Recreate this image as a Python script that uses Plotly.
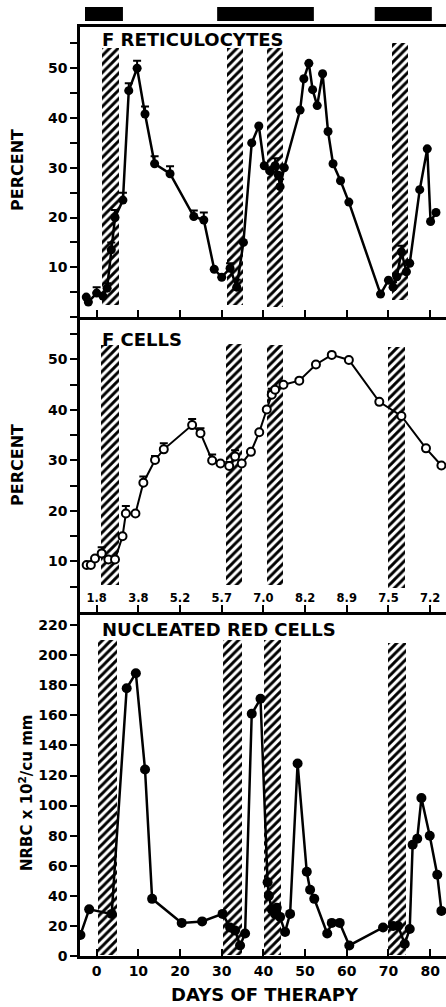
import plotly.graph_objects as go

# ---------------- data ----------------
ret_days = [-2.5, -2.0, 0.0, 1.5, 2.5, 3.5, 4.4, 6.3, 7.7, 9.7, 11.6, 13.9, 17.6, 23.3, 25.7,
            28.2, 30.0, 32.0, 33.6, 35.2, 37.2, 38.9, 40.2, 41.5, 42.8, 43.6, 44.0, 45.0,
            48.8, 49.7, 50.9, 51.8, 52.9, 54.2, 55.5, 56.7, 58.5, 60.5, 68.1, 70.0, 71.1,
            72.0, 73.1, 74.3, 75.1, 77.5, 79.3, 80.1, 81.4]
ret_vals = [4.0, 3.0, 4.8, 4.2, 5.8, 13.5, 20.0, 23.5, 45.5, 50.0, 40.8, 30.8, 28.8, 20.2, 19.5,
            9.6, 8.0, 9.8, 6.0, 15.0, 35.0, 38.4, 30.4, 29.4, 30.4, 28.5, 26.2, 30.0,
            41.6, 47.9, 51.0, 45.7, 42.5, 48.9, 37.3, 30.8, 27.4, 23.1, 4.6, 7.4, 6.0,
            8.1, 13.1, 9.1, 10.8, 25.6, 33.8, 19.2, 21.0]
ret_err = [0, 0, 1.2, 0, 1.0, 1.5, 1.5, 1.5, 1.5, 1.5, 1.5, 1.5, 1.5, 1.2, 1.5,
           0, 0, 1.0, 1.5, 0, 0, 0, 0, 0, 1.5, 0, 1.5, 0,
           0, 0, 0, 0, 0, 0, 0, 0, 0, 0, 0, 0, 1.0,
           0, 1.2, 0, 0, 0, 0, 0, 0]

fc_days = [-2.4, -1.4, -0.4, 1.2, 2.8, 4.4, 6.2, 7.0, 9.3, 11.2, 14.0, 16.1, 22.9, 24.9, 27.7,
           29.7, 31.8, 33.2, 34.8, 37.0, 39.0, 40.8, 42.0, 42.8, 44.8, 48.6, 52.6, 56.4,
           60.5, 67.8, 73.1, 79.0, 82.7]
fc_vals = [9.3, 9.3, 10.6, 11.6, 10.4, 10.4, 15.0, 19.5, 19.5, 25.6, 30.1, 32.2, 37.0, 35.4, 30.0,
           29.4, 28.9, 30.8, 29.4, 31.7, 35.6, 40.1, 43.0, 44.0, 45.0, 45.8, 49.0, 50.9,
           49.9, 41.6, 38.8, 32.4, 29.0]
fc_err = [0, 0, 0, 1.2, 0, 0, 0, 1.5, 0, 1.2, 0.8, 1.2, 1.2, 1.0, 1.2,
          0, 0.8, 1.2, 0, 0, 0, 0, 1.2, 0, 0, 0, 0, 0,
          0, 0, 0, 0, 0]

nr_days = [-3.9, -1.8, 3.6, 7.2, 9.4, 11.6, 13.3, 20.4, 25.3, 30.2, 32.0, 33.2, 34.4, 35.6,
           37.2, 39.3, 41.0, 41.3, 42.0, 42.8, 43.2, 44.0, 45.2, 46.4, 48.2, 50.4, 51.2, 52.2,
           55.3, 56.4, 58.3, 60.6, 68.7, 71.1, 72.3, 73.9, 75.1, 75.8, 76.9, 77.9, 79.9,
           81.7, 82.7]
nr_vals = [14, 31, 28, 178, 188, 124, 38, 22, 23, 28, 19, 17, 7, 15,
           161, 171, 49, 40, 31, 28, 32, 26, 16, 28, 128, 56, 44, 38,
           15, 22, 22, 7, 19, 20, 20, 8, 18, 74, 78, 105, 80,
           54, 30]

# transfusion / hatched periods (days) and their drawn heights per panel
hatch_top_x0 = [1.2, 31.2, 40.8, 70.8]
hatch_top_x1 = [5.4, 35.1, 44.7, 74.6]
hatch_top_y0 = [2.4, 2.4, 2.0, 3.4]
hatch_top_y1 = [54.1, 54.1, 54.1, 55.1]
hatch_mid_x0 = [1.0, 31.0, 40.8, 69.9]
hatch_mid_x1 = [5.4, 34.9, 44.6, 73.9]
hatch_mid_y0 = [5.3, 5.3, 5.3, 4.8]
hatch_mid_y1 = [52.9, 53.0, 52.9, 52.5]
hatch_bot_x0 = [0.3, 30.3, 40.2, 69.9]
hatch_bot_x1 = [4.9, 34.8, 44.2, 74.2]
hatch_bot_y0 = [1, 1, 1, 1]
hatch_bot_y1 = [210, 210, 210, 208]

# black treatment bars on top (days)
treat_x0 = [-2.8, 28.9, 66.7]
treat_x1 = [6.3, 52.1, 80.4]

day_ticks = [0, 10, 20, 30, 40, 50, 60, 70, 80]
hb_labels = ["1.8", "3.8", "5.2", "5.7", "7.0", "8.2", "8.9", "7.5", "7.2"]
pct_ticks = [10, 20, 30, 40, 50]
nr_ticks = [0, 20, 40, 60, 80, 100, 120, 140, 160, 180, 200, 220]

# ---------------- figure ----------------
FONT = "DejaVu Sans"
W, H = 446, 1007
ML, MT, MB = 80, 27, 51
plot_h = H - MT - MB
def py(pix):
    return (H - MB - pix) / plot_h
def xp(pix):
    return (pix - ML) / (W - ML)

top_dom = [py(317), 1.0]
mid_dom = [py(612), py(317)]
bot_dom = [0.0, py(612)]

fig = go.Figure()

def hatch(x0s, x1s, y0s, y1s, xa, ya):
    fig.add_trace(go.Bar(
        x=[(a + b) / 2 for a, b in zip(x0s, x1s)],
        width=[b - a for a, b in zip(x0s, x1s)],
        base=y0s,
        y=[b - a for a, b in zip(y0s, y1s)],
        marker=dict(color="white", line=dict(width=0),
                    pattern=dict(shape="/", fgcolor="black", bgcolor="white",
                                 size=6, solidity=0.48, fillmode="replace")),
        xaxis=xa, yaxis=ya, showlegend=False, hoverinfo="skip"))

hatch(hatch_top_x0, hatch_top_x1, hatch_top_y0, hatch_top_y1, "x3", "y3")
hatch(hatch_mid_x0, hatch_mid_x1, hatch_mid_y0, hatch_mid_y1, "x2", "y2")
hatch(hatch_bot_x0, hatch_bot_x1, hatch_bot_y0, hatch_bot_y1, "x", "y")

fig.add_trace(go.Scatter(
    x=ret_days, y=ret_vals, mode="lines+markers", xaxis="x3", yaxis="y3",
    line=dict(color="black", width=2.5),
    marker=dict(symbol="circle", size=9, color="black"),
    error_y=dict(type="data", symmetric=False, array=ret_err, arrayminus=[0] * len(ret_err),
                 color="black", thickness=2, width=4),
    showlegend=False))

fig.add_trace(go.Scatter(
    x=fc_days, y=fc_vals, mode="lines+markers", xaxis="x2", yaxis="y2",
    line=dict(color="black", width=2),
    marker=dict(symbol="circle", size=8, color="white", line=dict(color="black", width=2)),
    error_y=dict(type="data", symmetric=False, array=fc_err, arrayminus=[0] * len(fc_err),
                 color="black", thickness=2, width=4),
    showlegend=False))

fig.add_trace(go.Scatter(
    x=nr_days, y=nr_vals, mode="lines+markers", xaxis="x", yaxis="y",
    line=dict(color="black", width=2.5),
    marker=dict(symbol="circle", size=10, color="black"),
    showlegend=False))

XR = [-4, 83.8]
tickfont = dict(family=FONT, size=14, color="black", weight="bold")
common_x = dict(range=XR, showgrid=False, zeroline=False, showline=True, linecolor="black",
                linewidth=2.5, ticks="inside", ticklen=7, tickwidth=2, tickcolor="black",
                tickvals=day_ticks, automargin=False)
common_y = dict(showgrid=False, zeroline=False, showline=True, linecolor="black", linewidth=2.5,
                ticks="outside", ticklen=7, tickwidth=2, tickcolor="black", tickfont=tickfont,
                automargin=False)
pct_minor = dict(tick0=0, dtick=5, ticks="outside", ticklen=7, tickwidth=2, tickcolor="black",
                 showgrid=False)

fig.update_layout(
    template="none",
    width=W, height=H, paper_bgcolor="white", plot_bgcolor="white",
    margin=dict(l=ML, r=0, t=MT, b=MB, pad=0),
    barmode="overlay", bargap=0,
    font=dict(family=FONT, color="black"),
    xaxis=dict(**common_x, domain=[0, 1], anchor="y", showticklabels=True, tickfont=tickfont,
               ticktext=[str(v) for v in day_ticks]),
    yaxis=dict(**common_y, domain=bot_dom, anchor="x", range=[0, 228.7], tickvals=nr_ticks),
    xaxis2=dict(**common_x, domain=[0, 1], anchor="y2", showticklabels=True,
                ticktext=hb_labels, ticklabelposition="inside",
                tickfont=dict(family=FONT, size=11.5, color="black", weight="bold")),
    yaxis2=dict(**common_y, domain=mid_dom, anchor="x2", range=[0, 58.4],
                tickvals=pct_ticks, minor=pct_minor),
    xaxis3=dict(**common_x, domain=[0, 1], anchor="y3", showticklabels=False, mirror=True),
    yaxis3=dict(**common_y, domain=top_dom, anchor="x3", range=[0, 58.3],
                tickvals=pct_ticks, minor=pct_minor),
)

# treatment bars above the top panel
for a, b in zip(treat_x0, treat_x1):
    fig.add_shape(type="rect", xref="x3", yref="paper", x0=a, x1=b,
                  y0=1 + 6 / plot_h, y1=1 + 20 / plot_h,
                  fillcolor="black", line=dict(width=0), layer="above")

title_font = dict(family=FONT, size=18, color="black", weight="bold")
px_x = xp(100)
fig.add_annotation(text="F RETICULOCYTES", xref="paper", yref="paper", x=px_x, y=py(27),
                   xanchor="left", yanchor="top", showarrow=False, font=title_font)
fig.add_annotation(text="F CELLS", xref="paper", yref="paper", x=px_x, y=py(327),
                   xanchor="left", yanchor="top", showarrow=False, font=title_font)
fig.add_annotation(text="NUCLEATED RED CELLS", xref="paper", yref="paper", x=px_x, y=py(617),
                   xanchor="left", yanchor="top", showarrow=False, font=title_font)

lab_font = dict(family=FONT, size=16, color="black", weight="bold")
fig.add_annotation(text="PERCENT", xref="paper", yref="paper", x=xp(18), y=py(170),
                   xanchor="center", yanchor="middle", textangle=-90, showarrow=False, font=lab_font)
fig.add_annotation(text="PERCENT", xref="paper", yref="paper", x=xp(18), y=py(465),
                   xanchor="center", yanchor="middle", textangle=-90, showarrow=False, font=lab_font)
fig.add_annotation(text="NRBC x 10<sup>2</sup>/cu mm", xref="paper", yref="paper", x=xp(26), y=py(793),
                   xanchor="center", yanchor="middle", textangle=-90, showarrow=False,
                   font=dict(family=FONT, size=15, color="black", weight="bold"))
fig.add_annotation(text="DAYS OF THERAPY", xref="paper", yref="paper", x=xp(265), y=py(994),
                   xanchor="center", yanchor="middle", showarrow=False,
                   font=dict(family=FONT, size=18, color="black", weight="bold"))

fig.write_html("out.html", config={"displayModeBar": False},
               post_script="document.body.style.margin='0px';")
